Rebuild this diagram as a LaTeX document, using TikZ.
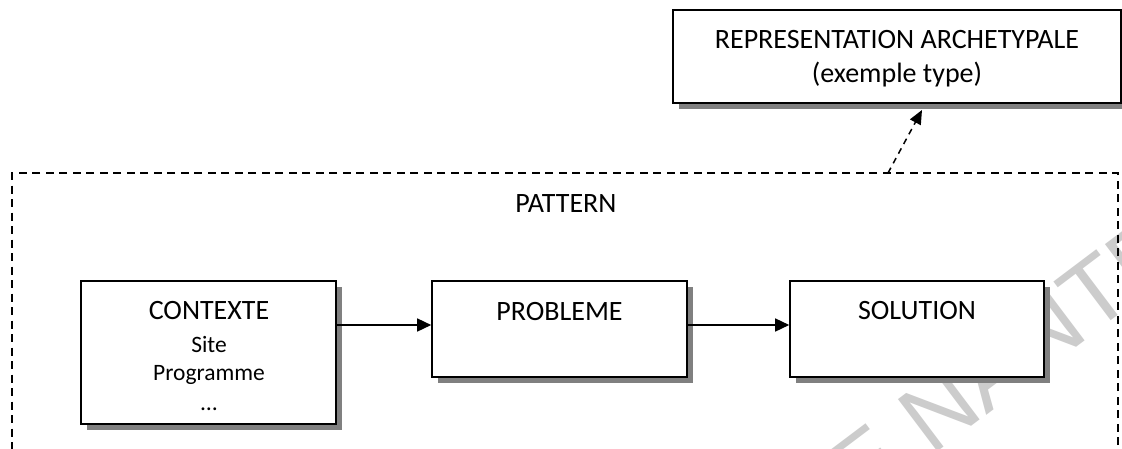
\documentclass[tikz,border=0pt]{standalone}
\usepackage{fontspec}
\setmainfont{Carlito}
\newfontfamily\wmfont{Liberation Sans}
\usetikzlibrary{shadows,arrows.meta}
\tikzset{
  box/.style={draw, line width=1.6pt, fill=white, inner sep=0pt,
    drop shadow={shadow xshift=5.5pt, shadow yshift=-5.5pt, fill=black!50, opacity=1}},
  frame/.style={draw, line width=1.4pt, dash pattern=on 8pt off 5.5pt, inner sep=0pt},
  big/.style={font=\fontsize{28}{34}\selectfont, inner sep=0pt, anchor=base},
  small/.style={font=\fontsize{23.5}{28}\selectfont, inner sep=0pt, anchor=base},
  arr/.style={line width=1.5pt, -{Triangle[length=14pt,width=13pt]}},
  darr/.style={line width=1.5pt, dash pattern=on 6pt off 5pt, -{Triangle[length=14pt,width=12pt]}},
  wm/.style={font=\wmfont\fontsize{95}{95}\selectfont, text=black!20, inner sep=0pt, anchor=base west, rotate=37}
}
\begin{document}
\begin{tikzpicture}[x=1pt,y=-1pt]
\useasboundingbox (0,0) rectangle (1122,448);
\clip (0,0) rectangle (1122,448);
\fill[white] (0,0) rectangle (1122,448);
% watermark
\node[wm] (wmark) at (805,552) {DE NANTES};
% pattern frame (bottom runs off the picture)
\node[frame, minimum width=1106pt, minimum height=300pt] (pat) at (565,323) {};
\node[big] (pattxt) at (566,212) {PATTERN};
% boxes
\node[box, minimum width=448pt, minimum height=93pt] (rep) at (897,56.5) {};
\node[big] (rep1) at (897,48) {REPRESENTATION ARCHETYPALE};
\node[big] (rep2) at (897,82) {(exemple type)};
\node[box, minimum width=255pt, minimum height=143pt] (ctx) at (208.5,352.5) {};
\node[big] (ctx1) at (209,319) {CONTEXTE};
\node[small] (ctx2) at (209,352) {Site};
\node[small] (ctx3) at (209,380) {Programme};
\node[small] (ctx4) at (209,410) {…};
\node[box, minimum width=255pt, minimum height=96pt] (prob) at (559.5,329) {};
\node[big] (prob1) at (559.5,320) {PROBLEME};
\node[box, minimum width=254pt, minimum height=96pt] (sol) at (917,329) {};
\node[big] (sol1) at (917,319) {SOLUTION};
% connectors
\coordinate (pin) at ([yshift=4pt]prob.west);
\coordinate (sin) at ([yshift=4pt]sol.west);
\draw[arr] (ctx.east |- pin) -- (pin);
\draw[arr] (prob.east |- sin) -- (sin);
\coordinate (as) at (888,173);
\coordinate (ae) at (922,110);
\draw[darr] (as) -- (ae);
\end{tikzpicture}
\end{document}
